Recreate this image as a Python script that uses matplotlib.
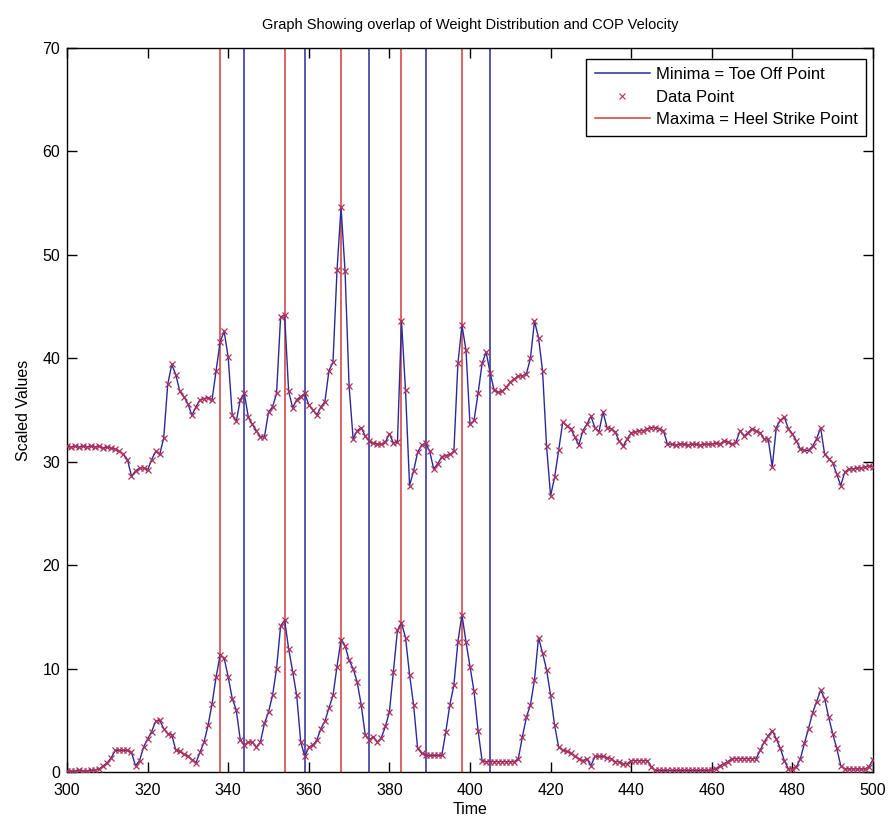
import numpy as np
import matplotlib
matplotlib.use("Agg")
import matplotlib.pyplot as plt
from matplotlib.lines import Line2D

plt.rcParams['font.family'] = ['Liberation Sans', 'DejaVu Sans']

# time samples
t = np.arange(300, 501)

# weight distribution (upper trace), one value per time step
weight = [
    31.5, 31.4, 31.5, 31.4, 31.5, 31.4, 31.5, 31.4, 31.5, 31.3,
    31.4, 31.3, 31.2, 31.0, 30.7, 30.2, 28.6, 29.1, 29.4, 29.4,
    29.2, 30.2, 31.0, 30.7, 32.3, 37.5, 39.4, 38.4, 36.8, 36.3,
    35.6, 34.5, 35.3, 36.0, 36.1, 36.2, 36.0, 38.8, 41.6, 42.6,
    40.1, 34.5, 33.9, 36.0, 36.6, 34.3, 33.6, 33.0, 32.4, 32.4,
    34.8, 35.3, 36.6, 44.0, 44.2, 36.8, 35.2, 36.0, 36.3, 36.6,
    35.5, 35.0, 34.5, 35.3, 35.8, 38.8, 39.6, 48.5, 54.6, 48.4,
    37.3, 32.2, 33.0, 33.3, 32.5, 32.0, 31.8, 31.7, 31.7, 31.9,
    32.7, 31.8, 31.9, 43.6, 36.9, 27.7, 29.1, 30.9, 31.6, 31.8,
    31.0, 29.3, 29.8, 30.5, 30.6, 30.7, 31.0, 39.5, 43.2, 40.8,
    33.6, 34.0, 36.6, 39.5, 40.6, 38.6, 36.9, 36.7, 36.8, 37.2,
    37.7, 38.0, 38.3, 38.3, 38.5, 40.0, 43.6, 42.0, 38.8, 31.5,
    26.7, 28.5, 31.1, 33.8, 33.5, 33.2, 32.4, 31.6, 33.0, 33.6,
    34.4, 33.3, 32.9, 34.8, 33.3, 33.2, 32.9, 32.0, 31.5, 32.2,
    32.8, 32.9, 33.0, 33.0, 33.2, 33.3, 33.3, 33.2, 33.0, 31.7,
    31.7, 31.6, 31.7, 31.7, 31.6, 31.7, 31.7, 31.6, 31.7, 31.7,
    31.7, 31.8, 31.7, 32.0, 31.9, 31.7, 31.9, 33.0, 32.5, 32.8,
    33.2, 33.0, 32.8, 32.2, 32.2, 29.5, 33.3, 34.0, 34.3, 33.2,
    32.7, 32.0, 31.2, 31.1, 31.1, 31.5, 32.2, 33.3, 30.7, 30.3,
    29.9, 28.8, 27.7, 29.0, 29.3, 29.3, 29.4, 29.4, 29.5, 29.6,
    29.5,
]

# COP velocity (lower trace)
velocity = [
    0.1, 0.1, 0.1, 0.15, 0.1, 0.1, 0.15, 0.2, 0.3, 0.6,
    0.9, 1.4, 2.1, 2.1, 2.1, 2.1, 1.9, 0.6, 1.1, 2.4,
    3.2, 3.9, 4.9, 5.0, 4.2, 3.7, 3.6, 2.1, 2.0, 1.7,
    1.5, 1.2, 0.9, 1.9, 2.9, 4.5, 6.6, 9.2, 11.3, 11.0,
    9.2, 7.1, 6.0, 3.1, 2.6, 2.9, 2.9, 2.4, 2.9, 4.7,
    5.8, 7.4, 10.0, 14.1, 14.7, 11.9, 9.7, 7.4, 2.9, 1.5,
    2.4, 2.6, 3.1, 4.2, 4.9, 6.2, 7.4, 10.2, 12.8, 12.2,
    10.8, 10.0, 8.7, 6.5, 3.6, 3.1, 3.4, 2.9, 3.3, 4.4,
    5.8, 9.7, 13.7, 14.4, 13.0, 9.4, 6.5, 2.3, 1.8, 1.6,
    1.6, 1.6, 1.6, 1.6, 3.9, 6.5, 8.4, 12.6, 15.2, 12.6,
    10.2, 7.8, 4.0, 1.1, 1.0, 1.0, 1.0, 1.0, 1.0, 1.0,
    1.0, 1.0, 1.3, 3.4, 5.3, 6.5, 8.9, 13.0, 11.5, 9.9,
    7.4, 4.5, 2.4, 2.1, 2.0, 1.8, 1.5, 1.3, 1.1, 1.3,
    0.6, 1.5, 1.5, 1.5, 1.4, 1.3, 1.0, 1.0, 0.8, 0.8,
    1.1, 1.1, 1.1, 1.1, 1.1, 0.5, 0.15, 0.15, 0.15, 0.15,
    0.15, 0.15, 0.15, 0.15, 0.15, 0.15, 0.15, 0.15, 0.15, 0.15,
    0.2, 0.3, 0.6, 0.8, 1.0, 1.3, 1.3, 1.3, 1.3, 1.3,
    1.3, 1.3, 2.1, 2.9, 3.5, 4.0, 3.2, 2.3, 1.1, 0.3,
    0.3, 0.5, 1.3, 2.8, 4.2, 5.7, 6.8, 7.9, 7.1, 5.3,
    3.7, 2.3, 0.6, 0.3, 0.3, 0.3, 0.3, 0.3, 0.3, 0.5,
    1.2,
]

heel_strike = [338, 354, 368, 383, 398]   # maxima
toe_off = [344, 359, 375, 389, 405]       # minima

navy = '#2a2a9a'
red = '#d23a3a'
mark = '#b0305a'

fig = plt.figure(figsize=(8.89, 8.32), dpi=100)
ax = fig.add_axes([67/889, 1 - 772/832, 806/889, 724/832])

for x in heel_strike:
    ax.axvline(x, color=red, lw=1.1, zorder=1)
for x in toe_off:
    ax.axvline(x, color=navy, lw=1.1, zorder=1)

for y in (weight, velocity):
    ax.plot(t, y, '-', color=navy, lw=1.0, zorder=2)
    ax.plot(t, y, 'x', color=mark, ms=5, mew=0.9, zorder=3)

ax.set_xlim(300, 500)
ax.set_ylim(0, 70)
ax.set_xticks(np.arange(300, 501, 20))
ax.set_yticks(np.arange(0, 71, 10))
ax.tick_params(direction='in', top=True, right=True, length=7, width=1,
               labelsize=11.5)
ax.tick_params(axis='x', pad=8)
ax.tick_params(axis='y', pad=5)
for s in ax.spines.values():
    s.set_linewidth(1.0)

ax.set_title('Graph Showing overlap of Weight Distribution and COP Velocity',
             fontsize=10.5, pad=14)
ax.set_xlabel('Time', fontsize=11.5, labelpad=3)
ax.set_ylabel('Scaled Values', fontsize=11.5, labelpad=8)

handles = [
    Line2D([], [], color=navy, lw=1.1),
    Line2D([], [], ls='none', marker='x', color=mark, ms=5, mew=0.8),
    Line2D([], [], color=red, lw=1.1),
]
labels = ['Minima = Toe Off Point', 'Data Point', 'Maxima = Heel Strike Point']
leg = ax.legend(handles, labels, loc='upper right', fontsize=12,
                bbox_to_anchor=(865/873 + 0.001, 1 - 11/724), borderaxespad=0,
                handlelength=3.3, handletextpad=0.4, labelspacing=0.45,
                borderpad=0.5, fancybox=False, framealpha=1, edgecolor='black')
leg.get_frame().set_linewidth(1.0)

fig.savefig('out.png', dpi=100)
